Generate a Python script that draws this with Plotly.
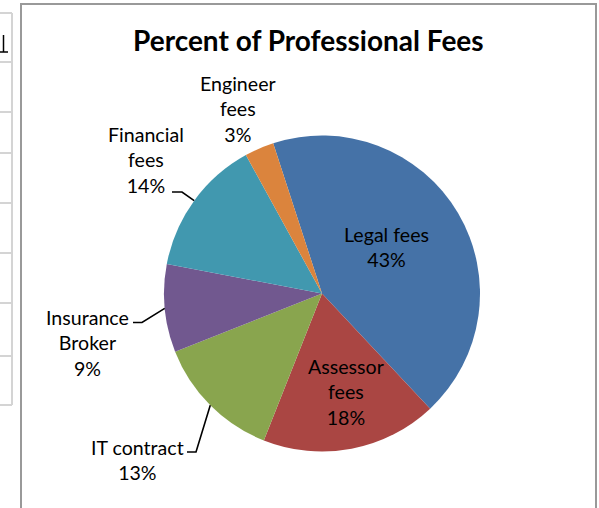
import math
import plotly.graph_objects as go

# Share of professional fees by category
categories = ["Legal fees", "Assessor fees", "IT contract", "Insurance Broker",
              "Financial fees", "Engineer fees"]
percents = [43, 18, 13, 9, 14, 3]
colors = ["#4572A7", "#AA4643", "#89A54E", "#71588F", "#4198AF", "#DB843D"]
title_text = "Percent of Professional Fees"

# text lines for each data label (label split the way it wraps)
label_lines = {
    "Legal fees": ["Legal fees"],
    "Assessor fees": ["Assessor", "fees"],
    "IT contract": ["IT contract"],
    "Insurance Broker": ["Insurance", "Broker"],
    "Financial fees": ["Financial", "fees"],
    "Engineer fees": ["Engineer", "fees"],
}

W, H = 599, 508
FONT = "Lato"


def px(x):
    return x / W


def py(y):
    return 1 - y / H


# pie placement in pixels
CX, CY, R = 322, 293.5, 158
ROTATION = -18

fig = go.Figure()
fig.add_trace(go.Pie(
    labels=categories,
    values=percents,
    sort=False,
    direction="clockwise",
    rotation=ROTATION,
    marker=dict(colors=colors, line=dict(width=0)),
    textinfo="none",
    hoverinfo="label+percent",
    showlegend=False,
    domain=dict(x=[px(CX - R), px(CX + R)], y=[py(CY + R), py(CY - R)]),
))

total = sum(percents)


def mid_point(i):
    before = sum(percents[:i])
    ang = math.radians(ROTATION + 360 * (before + percents[i] / 2) / total)
    return CX + R * math.sin(ang), CY - R * math.cos(ang)


# label anchor (pixel centre of text block), and leader-line elbow if any
label_pos = {
    "Legal fees": (386, 247, None),
    "Assessor fees": (346, 392, None),
    "IT contract": (137, 460, (187, 452, 196)),
    "Insurance Broker": (87, 343, (133, 322.5, 142)),
    "Financial fees": (146, 160, (172, 192, 182)),
    "Engineer fees": (238, 109, None),
}

annotations = []
shapes = []
for i, (cat, pct) in enumerate(zip(categories, percents)):
    x, y, leader = label_pos[cat]
    text = "<br>".join(label_lines[cat] + [f"{pct}%"])
    annotations.append(dict(
        x=px(x), y=py(y), xref="paper", yref="paper",
        text=text, showarrow=False, align="center",
        xanchor="center", yanchor="middle",
        font=dict(family=FONT, size=19.6, color="#000000"),
    ))
    if leader:
        sx, sy, ex = leader
        mx, my = mid_point(i)
        shapes.append(dict(
            type="path", xref="paper", yref="paper",
            path=f"M {px(sx)},{py(sy)} L {px(ex)},{py(sy)} L {px(mx)},{py(my)}",
            line=dict(color="#000000", width=1.6),
        ))

annotations.append(dict(
    x=px(308), y=py(40), xref="paper", yref="paper",
    text=f"<b>{title_text}</b>", showarrow=False,
    xanchor="center", yanchor="middle",
    font=dict(family=FONT, size=28, color="#000000"),
))

# chart frame
shapes.append(dict(type="rect", xref="paper", yref="paper",
                   x0=px(21), x1=px(596), y0=py(H + 20), y1=py(4),
                   line=dict(color="#999999", width=2)))

# worksheet grid to the left of the chart
grid_rows = [13, 62, 112, 153, 203, 253, 303, 356, 405]
shapes.append(dict(type="line", xref="paper", yref="paper",
                   x0=px(12), x1=px(12), y0=py(grid_rows[0]), y1=py(grid_rows[-1]),
                   line=dict(color="#d4d4d4", width=2)))
for gy in grid_rows:
    shapes.append(dict(type="line", xref="paper", yref="paper",
                       x0=px(-2), x1=px(12), y0=py(gy), y1=py(gy),
                       line=dict(color="#d4d4d4", width=2)))
# clipped underlined cell character
shapes.append(dict(type="line", xref="paper", yref="paper",
                   x0=px(3.5), x1=px(3.5), y0=py(35), y1=py(52),
                   line=dict(color="#000000", width=1.5)))
shapes.append(dict(type="line", xref="paper", yref="paper",
                   x0=px(-1), x1=px(8), y0=py(52), y1=py(52),
                   line=dict(color="#000000", width=1.5)))

fig.update_layout(
    width=W, height=H,
    margin=dict(l=0, r=0, t=0, b=0),
    paper_bgcolor="white",
    plot_bgcolor="white",
    annotations=annotations,
    shapes=shapes,
)

fig.write_html("out.html")
